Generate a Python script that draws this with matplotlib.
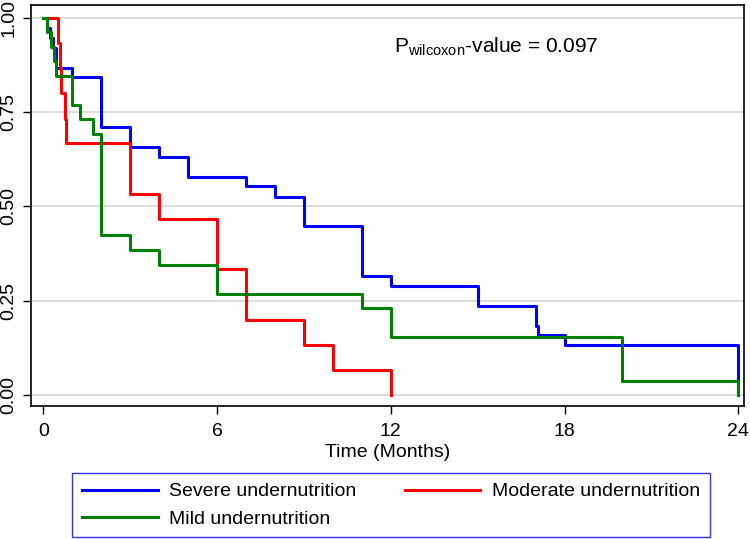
import matplotlib
matplotlib.use("Agg")
import matplotlib.pyplot as plt

plt.rcParams['font.family'] = ['Liberation Sans', 'DejaVu Sans']
plt.rcParams['mathtext.fontset'] = 'custom'
plt.rcParams['mathtext.rm'] = 'Liberation Sans'
plt.rcParams['mathtext.it'] = 'Liberation Sans'

# Kaplan-Meier step data (time in months, survival)
severe_t = [0, 0.12, 0.22, 0.33, 0.43, 1, 2, 3, 4, 5, 7, 8, 9, 11, 12, 15, 17, 17.1, 18, 24]
severe_s = [1, 0.974, 0.947, 0.921, 0.868, 0.842, 0.711, 0.658, 0.632, 0.579,
            0.553, 0.526, 0.447, 0.316, 0.289, 0.237, 0.184, 0.158, 0.132, 0]

moderate_t = [0, 0.5, 0.57, 0.61, 0.74, 0.78, 3, 4, 6, 7, 9, 10, 12]
moderate_s = [1, 0.933, 0.867, 0.8, 0.733, 0.667, 0.533, 0.467, 0.333, 0.2, 0.133, 0.067, 0]

mild_t = [0, 0.12, 0.26, 0.35, 0.45, 1, 1.27, 1.72, 2, 3, 4, 6, 11, 12, 20, 24]
mild_s = [1, 0.962, 0.923, 0.885, 0.846, 0.769, 0.731, 0.692, 0.423, 0.385,
          0.346, 0.269, 0.231, 0.154, 0.038, 0]

labels = ["Severe undernutrition", "Moderate undernutrition", "Mild undernutrition"]
colors = ["#0000ff", "#ff0000", "#008000"]
xticks = [0, 6, 12, 18, 24]
yticks = [0, 0.25, 0.5, 0.75, 1.0]

fig = plt.figure(figsize=(7.5, 5.39), dpi=100)
ax = fig.add_axes([31 / 750, 1 - 406 / 539, 713 / 750, 401 / 539])

lines = []
for t, s, c, lab in zip([severe_t, moderate_t, mild_t], [severe_s, moderate_s, mild_s], colors, labels):
    ln, = ax.step(t, s, where="post", color=c, lw=2.2, label=lab)
    lines.append(ln)

ax.set_xlim(-0.43, 24.2)
ax.set_ylim(-0.029, 1.034)
ax.set_xticks(xticks)
ax.set_xticklabels([str(x) for x in xticks])
ax.set_yticks(yticks)
ax.set_yticklabels(["%.2f" % y for y in yticks], rotation=90, va="center")
ax.tick_params(labelsize=14, length=6, width=1, colors="black")
ax.tick_params(axis="x", pad=6)
ax.tick_params(axis="y", pad=4)
ax.yaxis.grid(True, color="#dcdcdc", lw=1.4)
ax.set_axisbelow(True)
for sp in ax.spines.values():
    sp.set_linewidth(1.2)

ax.set_xlabel("Time (Months)", fontsize=14, labelpad=3)

ax.text(12.1, 0.924, r"P$_{\mathrm{wilcoxon}}$-value = 0.097", fontsize=15, va="center")

leg = fig.legend([lines[0], lines[2], lines[1]], [labels[0], labels[2], labels[1]],
                 ncol=2, loc="upper left", mode="expand",
                 bbox_to_anchor=(72 / 750, 1 - 473 / 539 - 0.2, 638 / 750, 0.2),
                 borderaxespad=0, fontsize=14, handlelength=3.9, handletextpad=0.6,
                 columnspacing=1.75, fancybox=False, borderpad=0.5, labelspacing=0.5)
leg.get_frame().set_edgecolor("#0000ff")
leg.get_frame().set_linewidth(1.0)

fig.savefig("out.png", dpi=100)
